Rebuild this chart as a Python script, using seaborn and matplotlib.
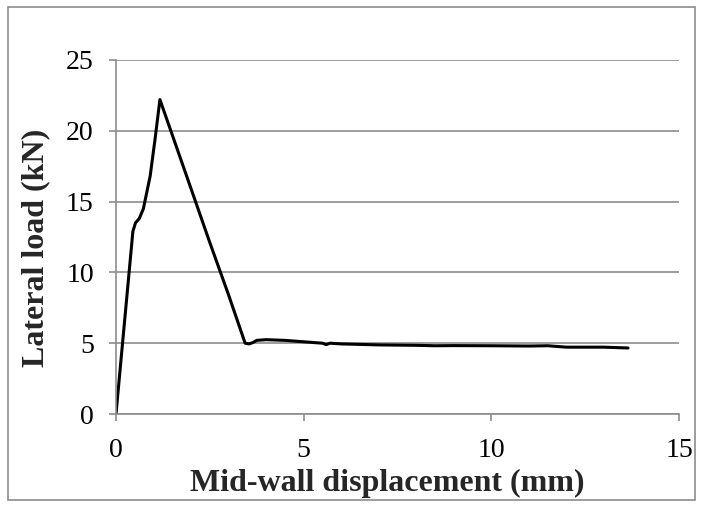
import matplotlib
matplotlib.use("Agg")
import matplotlib.pyplot as plt
import seaborn as sns
import pandas as pd
from matplotlib.patches import Rectangle

displacement = [0.0, 0.45, 0.52, 0.62, 0.73, 0.91, 1.04, 1.17,
                1.5, 2.0, 2.5, 3.0, 3.44, 3.55, 3.65, 3.75, 4.0, 4.5, 5.0, 5.5,
                5.6, 5.7, 6.0, 7.0, 8.0, 8.5, 9.0, 10.0, 11.0, 11.5, 12.0, 13.0, 13.64]
load = [0.0, 12.9, 13.5, 13.8, 14.5, 16.8, 19.4, 22.2,
        19.7, 15.9, 12.1, 8.4, 5.0, 4.95, 5.05, 5.2, 5.25, 5.2, 5.1, 5.0,
        4.9, 5.0, 4.95, 4.88, 4.85, 4.82, 4.83, 4.82, 4.8, 4.82, 4.72, 4.72, 4.66]

df = pd.DataFrame({"disp": displacement, "load": load})

sns.set_theme(style="white")
plt.rcParams['font.family'] = ['Liberation Serif', 'DejaVu Serif']

fig = plt.figure(figsize=(7.03, 5.07), dpi=100)
ax = fig.add_axes([0.165, 0.1834, 0.801, 0.6984])

sns.lineplot(data=df, x="disp", y="load", ax=ax, color="black", linewidth=2.2,
             sort=False, estimator=None)

ax.set_xlim(0, 15)
ax.set_ylim(0, 25)
ax.set_xticks([0, 5, 10, 15])
ax.set_yticks([0, 5, 10, 15, 20, 25])
ax.yaxis.grid(True, color="#8c8c8c", linewidth=1.2)
ax.xaxis.grid(False)
for s in ["top", "right"]:
    ax.spines[s].set_visible(False)
for s in ["left", "bottom"]:
    ax.spines[s].set_color("#8c8c8c")
    ax.spines[s].set_linewidth(1.2)
ax.tick_params(axis="both", which="major", direction="out", length=5, width=1.2,
               color="#8c8c8c", labelsize=20, labelcolor="black", left=True, bottom=True)
ax.tick_params(axis="y", pad=11)
ax.tick_params(axis="x", pad=12)
ax.set_xlabel("Mid-wall displacement (mm)", fontsize=23, fontweight="bold", va="center")
ax.set_ylabel("Lateral load (kN)", fontsize=23, fontweight="bold", va="center")
ax.xaxis.set_label_coords(0.482, -0.197)
ax.yaxis.set_label_coords(-(116 - 36) / 563, 0.469)

fig.patches.append(Rectangle((0.012, 0.014), 0.976, 0.972, transform=fig.transFigure,
                             fill=False, edgecolor="#8c8c8c", linewidth=1.2))

fig.savefig("out.png", dpi=100)
